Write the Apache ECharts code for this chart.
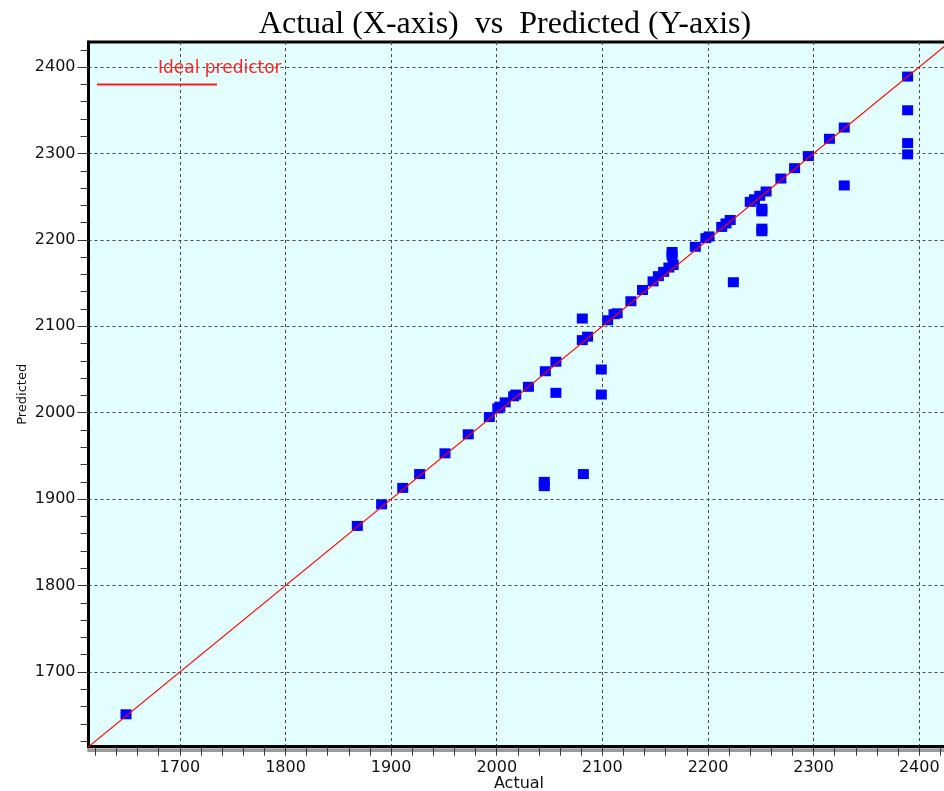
<!DOCTYPE html>
<html>
<head>
<meta charset="utf-8">
<script src="https://cdn.jsdelivr.net/npm/echarts@6/dist/echarts.min.js"></script>
<style>
  html, body { margin: 0; padding: 0; background: #ffffff; }
  #chart { width: 944px; height: 791px; }
</style>
</head>
<body>
<div id="chart"></div>
<script>
// Observed (actual) vs model output (predicted)
const actual = [
  1649, 1868, 1891, 1911, 1927, 1951, 1973, 1993, 2001, 2003,
  2008, 2016, 2018, 2030, 2046, 2045, 2045, 2056, 2056, 2081,
  2081, 2086, 2082, 2099, 2099, 2105, 2111, 2114, 2127, 2138,
  2148, 2153, 2158, 2163, 2167, 2166, 2166, 2188, 2198, 2201,
  2213, 2217, 2221, 2224, 2240, 2244, 2249, 2255, 2251, 2251,
  2251, 2251, 2269, 2282, 2295, 2315, 2329, 2329, 2389, 2389,
  2389, 2389
];
const predicted = [
  1651, 1869, 1894, 1913, 1929, 1953, 1975, 1995, 2005, 2007,
  2012, 2019, 2021, 2030, 2048, 1920, 1915, 2059, 2023, 2109,
  2084, 2088, 1929, 2050, 2021, 2107, 2114, 2115, 2129, 2142,
  2152, 2158, 2163, 2168, 2171, 2186, 2182, 2192, 2202, 2204,
  2215, 2219, 2223, 2151, 2244, 2247, 2251, 2256, 2236, 2233,
  2213, 2210, 2271, 2283, 2297, 2317, 2330, 2263, 2389, 2350,
  2312, 2299
];

// Reference line y = x
const idealLine = [[1600, 1600], [2450, 2450]];

// Axis ranges and tick values
const X_MIN = 1613.5, X_MAX = 2440;
const Y_MIN = 1613.5, Y_MAX = 2429;
const xTickLabels = [1700, 1800, 1900, 2000, 2100, 2200, 2300, 2400];
const yTickLabels = [1700, 1800, 1900, 2000, 2100, 2200, 2300, 2400];
const minorTicks = [];
for (let v = 1620; v <= 2440; v += 20) minorTicks.push(v);

const points = actual.map((a, i) => [a, predicted[i]]);

const FONT = 'DejaVu Sans';
const plain = (v) => String(Math.round(v));
const gridLine = { show: true, lineStyle: { color: '#4a4a4a', type: [3, 3], width: 1 } };
const hidden = { show: false };

const chart = echarts.init(document.getElementById('chart'), null, { renderer: 'canvas' });

chart.setOption({
  backgroundColor: '#ffffff',
  animation: false,
  title: {
    text: 'Actual (X-axis)  vs  Predicted (Y-axis)',
    left: 500,
    textAlign: 'center',
    top: 4,
    textStyle: { fontFamily: 'Liberation Serif', fontSize: 32, fontWeight: 'normal', color: '#000000' }
  },
  grid: {
    left: 88.5, top: 42, right: -17.5, bottom: 44.3,
    containLabel: false, outerBoundsMode: 'none',
    show: true, backgroundColor: '#e2fefe', borderColor: '#000000', borderWidth: 3
  },
  xAxis: [
    { // grey band under the bottom axis
      type: 'value', min: X_MIN, max: X_MAX, position: 'bottom', offset: 4,
      axisLine: { show: true, onZero: false, lineStyle: { color: '#9a9a9a', width: 3 } },
      axisTick: hidden, axisLabel: hidden, splitLine: hidden
    },
    { // main axis: labels and vertical grid lines
      type: 'value', min: X_MIN, max: X_MAX, position: 'bottom',
      axisLine: { show: true, onZero: false, lineStyle: { color: '#000000', width: 3 } },
      axisTick: { show: false, customValues: xTickLabels },
      axisLabel: { customValues: xTickLabels, formatter: plain, margin: 13, color: '#111111', fontFamily: FONT, fontSize: 16 },
      splitLine: gridLine,
      name: 'Actual', nameLocation: 'middle', nameGap: 29, nameMoveOverlap: false,
      nameTextStyle: { color: '#111111', fontFamily: FONT, fontSize: 16, padding: [0, 12, 0, 0] }
    },
    { // fine ticks every 20
      type: 'value', min: X_MIN, max: X_MAX, position: 'bottom',
      axisLine: { show: false, onZero: false },
      axisTick: { show: true, customValues: minorTicks, length: 9, lineStyle: { color: '#333333', width: 1 } },
      axisLabel: hidden, splitLine: hidden
    }
  ],
  yAxis: [
    { // main axis: labels and horizontal grid lines
      type: 'value', min: Y_MIN, max: Y_MAX, position: 'left',
      axisLine: { show: true, onZero: false, lineStyle: { color: '#000000', width: 3 } },
      axisTick: { show: true, customValues: yTickLabels, length: 11, lineStyle: { color: '#333333', width: 1 } },
      axisLabel: { customValues: yTickLabels, formatter: plain, margin: 13, color: '#111111', fontFamily: FONT, fontSize: 16 },
      splitLine: gridLine,
      name: 'Predicted', nameLocation: 'middle', nameGap: 59, nameMoveOverlap: false,
      nameTextStyle: { color: '#111111', fontFamily: FONT, fontSize: 13 }
    },
    { // fine ticks every 20
      type: 'value', min: Y_MIN, max: Y_MAX, position: 'left',
      axisLine: { show: false, onZero: false },
      axisTick: { show: true, customValues: minorTicks, length: 8, lineStyle: { color: '#333333', width: 1 } },
      axisLabel: hidden, splitLine: hidden
    }
  ],
  graphic: [
    { type: 'line', z: 100, shape: { x1: 97, y1: 84.5, x2: 217, y2: 84.5 },
      style: { stroke: '#ff1a1a', lineWidth: 2 } },
    { type: 'text', z: 100, left: 158, top: 60,
      style: { text: 'Ideal predictor', fill: '#ff2020', font: '17px "DejaVu Sans"' } }
  ],
  series: [
    {
      name: 'Data', type: 'scatter', xAxisIndex: 1, yAxisIndex: 0,
      data: points, symbol: 'rect', symbolSize: [11, 10],
      itemStyle: { color: '#0000ff', opacity: 1 }, z: 3
    },
    {
      name: 'Ideal predictor', type: 'line', xAxisIndex: 1, yAxisIndex: 0,
      data: idealLine, symbol: 'none', clip: true,
      lineStyle: { color: '#ff0000', width: 1.2 }, z: 4
    }
  ]
});
</script>
</body>
</html>
